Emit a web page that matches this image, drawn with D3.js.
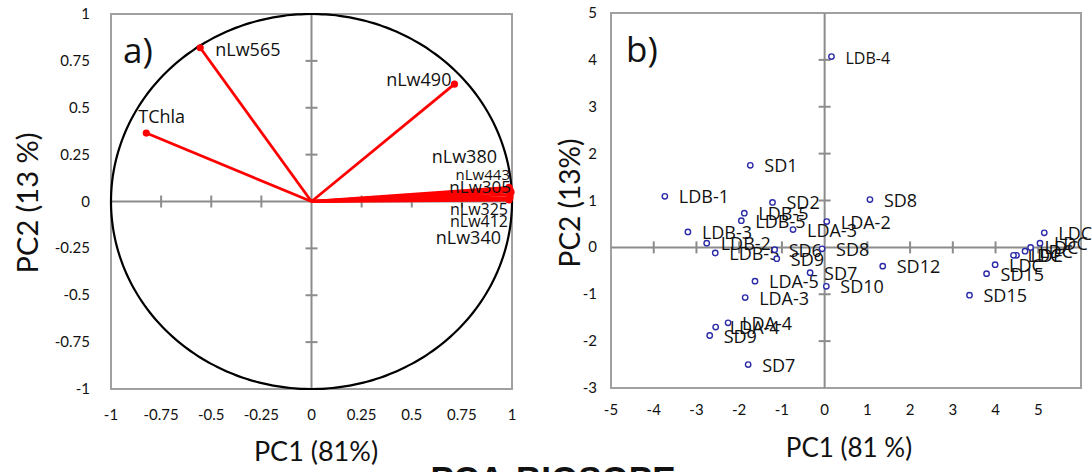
<!DOCTYPE html>
<html>
<head>
<meta charset="utf-8">
<script src="https://cdn.jsdelivr.net/npm/d3@7"></script>
<style>
  html, body { margin: 0; padding: 0; background: #fff; overflow: hidden; }
  svg { display: block; }
  text { fill: #111; }
</style>
</head>
<body>
<svg id="chart" width="1092" height="472"></svg>
<script>
// ---- Panel a: variable loadings on PC1 / PC2 ----
const loadingNames = ["nLw565", "TChla", "nLw490", "nLw380", "nLw443", "nLw305", "nLw325", "nLw412", "nLw340"];
const loadingPC1   = [-0.555, -0.824, 0.713, 0.985, 0.99, 0.995, 0.99, 0.99, 0.985];
const loadingPC2   = [0.82, 0.365, 0.626, 0.075, 0.062, 0.05, 0.035, 0.02, 0.008];
const ticksA = [-1, -0.75, -0.5, -0.25, 0, 0.25, 0.5, 0.75, 1];

// ---- Panel b: station scores on PC1 / PC2 ----
const stationNames = ["LDB-4", "SD1", "LDB-1", "SD2", "SD8", "LDB-5", "LDB-5", "LDA-3", "LDA-2",
  "LDB-3", "LDB-2", "LDB-5", "SD6", "SD9", "SD8", "SD7", "SD10", "LDA-5", "LDA-3", "SD12",
  "LDC", "LDC", "LDC", "LDC", "LDE", "LDC", "LDC", "SD15", "SD15",
  "LDA-4", "LDA-4", "SD9", "SD7"];
const stationPC1 = [0.16, -1.74, -3.74, -1.22, 1.06, -1.88, -1.95, -0.74, 0.05,
  -3.2, -2.76, -2.56, -1.17, -1.12, -0.06, -0.34, 0.04, -1.63, -1.86, 1.36,
  5.14, 5.04, 4.82, 4.69, 4.49, 4.42, 3.99, 3.79, 3.39,
  -2.26, -2.55, -2.69, -1.79];
const stationPC2 = [4.07, 1.75, 1.09, 0.96, 1.02, 0.73, 0.57, 0.38, 0.55,
  0.33, 0.09, -0.12, -0.05, -0.24, -0.03, -0.54, -0.83, -0.72, -1.07, -0.40,
  0.31, 0.09, 0.0, -0.08, -0.17, -0.17, -0.37, -0.56, -1.02,
  -1.61, -1.70, -1.88, -2.50];
const ticksBx = [-5, -4, -3, -2, -1, 0, 1, 2, 3, 4, 5];
const ticksBy = [-3, -2, -1, 0, 1, 2, 3, 4, 5];

const svg = d3.select("#chart");
const tickFont = "Lato, 'Open Sans', sans-serif";
const labelFont = "'Open Sans', 'Noto Sans', sans-serif";
const gridGray = "#8c8c8c";

// Shared drawing of a framed panel with crossing zero axes and cross ticks
function drawFrame(g, x, y, xt, yt, labelXOffset, labelYOffset, fmt) {
  const [x0, x1] = x.range(), [y0, y1] = y.range();
  g.append("rect")
    .attr("x", x0).attr("y", y1).attr("width", x1 - x0).attr("height", y0 - y1)
    .attr("fill", "none").attr("stroke", "#a0a0a0").attr("stroke-width", 2);
  // zero lines
  g.append("line").attr("x1", x0).attr("x2", x1).attr("y1", y(0)).attr("y2", y(0))
    .attr("stroke", gridGray).attr("stroke-width", 2);
  g.append("line").attr("x1", x(0)).attr("x2", x(0)).attr("y1", y0).attr("y2", y1)
    .attr("stroke", gridGray).attr("stroke-width", 2);
  // cross ticks on the zero lines
  g.selectAll(".tx").data(xt.filter(v => v !== 0 && x(v) > x0 + 1 && x(v) < x1 - 1)).join("line")
    .attr("x1", d => x(d)).attr("x2", d => x(d))
    .attr("y1", y(0) - 6).attr("y2", y(0) + 6)
    .attr("stroke", gridGray).attr("stroke-width", 2);
  g.selectAll(".ty").data(yt.filter(v => v !== 0 && y(v) < y0 - 1 && y(v) > y1 + 1)).join("line")
    .attr("y1", d => y(d)).attr("y2", d => y(d))
    .attr("x1", x(0) - 6).attr("x2", x(0) + 6)
    .attr("stroke", gridGray).attr("stroke-width", 2);
  // tick labels
  g.selectAll(".lx").data(xt).join("text")
    .attr("x", d => x(d)).attr("y", y0 + labelYOffset)
    .attr("text-anchor", "middle")
    .style("font-family", tickFont).style("font-size", "15px")
    .text(fmt);
  g.selectAll(".ly").data(yt).join("text")
    .attr("x", x0 - labelXOffset).attr("y", d => y(d) + 5)
    .attr("text-anchor", "end")
    .style("font-family", tickFont).style("font-size", "15px")
    .text(fmt);
}

// ================= Panel a =================
const xA = d3.scaleLinear().domain([-1, 1]).range([111, 512]);
const yA = d3.scaleLinear().domain([-1, 1]).range([389, 14]);
const gA = svg.append("g");
drawFrame(gA, xA, yA, ticksA, ticksA, 21, 31, d => String(d));

// correlation circle (radius 1 in data units)
const circlePts = d3.range(0, 360, 2).map(a => [Math.cos(a * Math.PI / 180), Math.sin(a * Math.PI / 180)]);
gA.append("path")
  .attr("d", d3.line().x(d => xA(d[0])).y(d => yA(d[1])).curve(d3.curveCardinalClosed)(circlePts))
  .attr("fill", "none").attr("stroke", "#000").attr("stroke-width", 2.2);

const loadings = loadingNames.map((n, i) => ({ name: n, x: loadingPC1[i], y: loadingPC2[i] }));
gA.selectAll(".vec").data(loadings).join("line")
  .attr("x1", xA(0)).attr("y1", yA(0))
  .attr("x2", d => xA(d.x)).attr("y2", d => yA(d.y))
  .attr("stroke", "#ff0000").attr("stroke-width", 2.8);
gA.selectAll(".tip").data(loadings).join("circle")
  .attr("cx", d => xA(d.x)).attr("cy", d => yA(d.y)).attr("r", 3.6)
  .attr("fill", "#ff0000");

// label placement (offsets from each arrow tip)
const labelA = {
  nLw565: { dx: 15, dy: 8, anchor: "start", size: 18 },
  TChla:  { dx: -8, dy: -10, anchor: "start", size: 18 },
  nLw490: { dx: -3, dy: 2, anchor: "end", size: 18 },
  nLw380: { dx: -12, dy: -24, anchor: "end", size: 18 },
  nLw443: { dx: 0, dy: -10, anchor: "end", size: 15 },
  nLw305: { dx: 0, dy: 1, anchor: "end", size: 17 },
  nLw325: { dx: -2, dy: 20, anchor: "end", size: 16 },
  nLw412: { dx: -2, dy: 29, anchor: "end", size: 16 },
  nLw340: { dx: -8, dy: 44, anchor: "end", size: 18 }
};
gA.selectAll(".vl").data(loadings).join("text")
  .attr("x", d => xA(d.x) + labelA[d.name].dx)
  .attr("y", d => yA(d.y) + labelA[d.name].dy)
  .attr("text-anchor", d => labelA[d.name].anchor)
  .style("font-family", labelFont)
  .style("font-size", d => labelA[d.name].size + "px")
  .text(d => d.name);

gA.append("text").attr("x", 123).attr("y", 63)
  .style("font-family", labelFont).style("font-size", "35px").text("a)");

gA.append("text").attr("x", 316).attr("y", 461).attr("text-anchor", "middle")
  .style("font-family", tickFont).style("font-size", "27px").text("PC1 (81%)");
gA.append("text").attr("transform", "translate(38,203) rotate(-90)").attr("text-anchor", "middle")
  .style("font-family", tickFont).style("font-size", "29px").text("PC2 (13 %)");

// ================= Panel b =================
const xB = d3.scaleLinear().domain([-5, 6]).range([611, 1081]);
const yB = d3.scaleLinear().domain([-3, 5]).range([388, 13]);
const gB = svg.append("g");
drawFrame(gB, xB, yB, ticksBx, ticksBy, 14, 27, d => String(d));

const stations = stationNames.map((n, i) => ({ name: n, x: stationPC1[i], y: stationPC2[i] }));
gB.selectAll(".st").data(stations).join("text")
  .attr("x", d => xB(d.x) + 14).attr("y", d => yB(d.y) + 7)
  .style("font-family", labelFont)
  .style("font-size", d => d.name === "LDB-4" ? "16px" : "18px")
  .text(d => d.name);
gB.selectAll(".pt").data(stations).join("circle")
  .attr("cx", d => xB(d.x)).attr("cy", d => yB(d.y)).attr("r", 2.7)
  .attr("fill", "#fff").attr("stroke", "#2b2ba8").attr("stroke-width", 1.4);

gB.append("text").attr("x", 626).attr("y", 62)
  .style("font-family", labelFont).style("font-size", "35px").text("b)");

gB.append("text").attr("x", 849).attr("y", 457).attr("text-anchor", "middle")
  .style("font-family", tickFont).style("font-size", "26px").text("PC1 (81 %)");
gB.append("text").attr("transform", "translate(580,203) rotate(-90)").attr("text-anchor", "middle")
  .style("font-family", tickFont).style("font-size", "28px").text("PC2 (13%)");

// figure title along the bottom edge
svg.append("text").attr("x", 553).attr("y", 491).attr("text-anchor", "middle")
  .style("font-family", "'Liberation Sans', Arial, sans-serif").style("font-weight", "bold")
  .style("font-size", "35px").text("PCA-BIOSOPE");
</script>
</body>
</html>
